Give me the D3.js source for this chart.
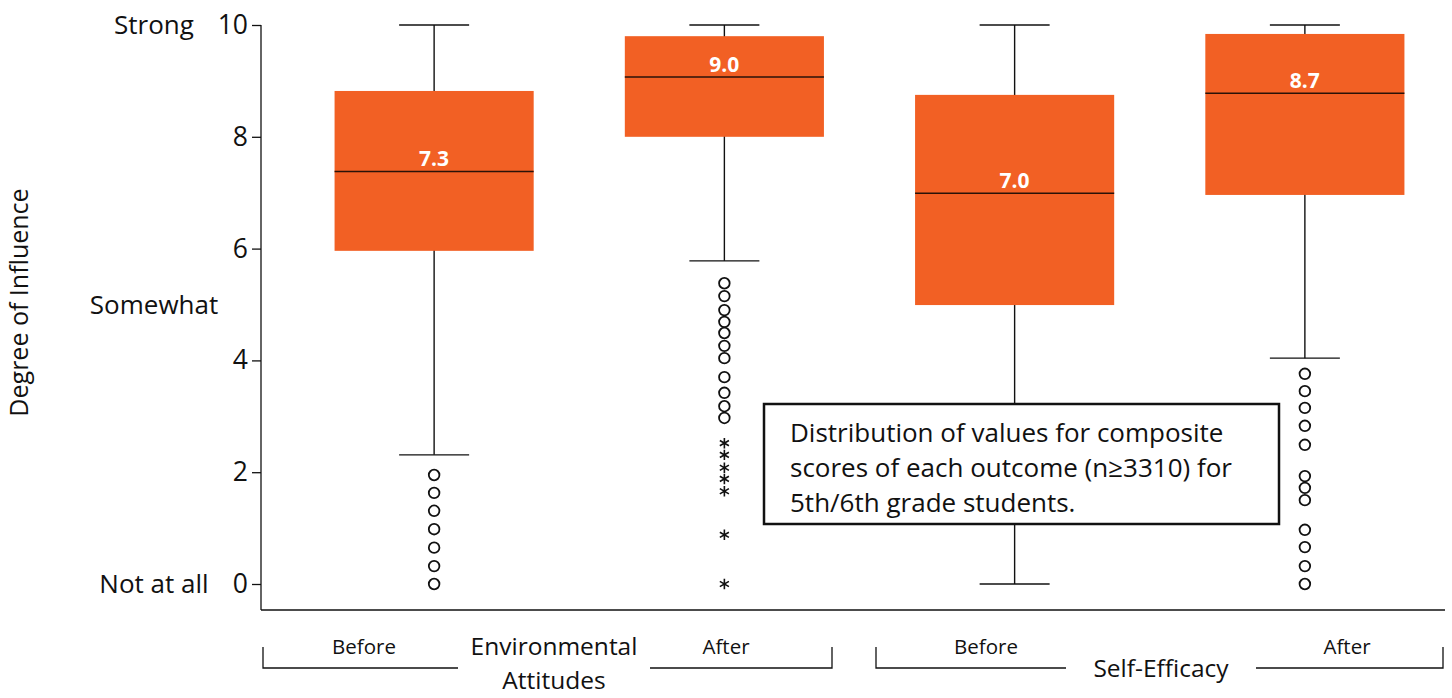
<!DOCTYPE html>
<html>
<head>
<meta charset="utf-8">
<script src="https://cdn.jsdelivr.net/npm/d3@7"></script>
<style>
  html, body { margin: 0; padding: 0; background: #fff; }
  svg { display: block; }
  text { font-family: "Open Sans", "Noto Sans", sans-serif; fill: #111; }
</style>
</head>
<body>
<svg id="chart" width="1452" height="698"></svg>
<script>
// ---------- data ----------
const categories   = ["EA Before", "EA After", "SE Before", "SE After"];
const q1           = [5.96, 8.00, 4.99, 6.96];
const medians      = [7.38, 9.07, 6.99, 8.78];
const q3           = [8.82, 9.80, 8.75, 9.84];
const whiskerLow   = [2.31, 5.78, 0.00, 4.04];
const whiskerHigh  = [10, 10, 10, 10];
const medianLabels = ["7.3", "9.0", "7.0", "8.7"];
const circleOutliers = [
  [1.95, 1.63, 1.31, 0.98, 0.65, 0.32, 0.00],
  [5.38, 5.15, 4.90, 4.69, 4.49, 4.26, 4.04, 3.70, 3.42, 3.18, 2.97],
  [],
  [3.76, 3.45, 3.15, 2.83, 2.49, 1.93, 1.72, 1.50, 0.97, 0.66, 0.32, 0.00]
];
const starOutliers = [
  [],
  [2.52, 2.31, 2.08, 1.88, 1.66, 0.88, 0.00],
  [],
  []
];
const yTicks = [0, 2, 4, 6, 8, 10];
const sideLabelValues = [10, 5, 0];
const sideLabelTexts  = ["Strong", "Somewhat", "Not at all"];
const groupNames   = [["Environmental", "Attitudes"], ["Self-Efficacy"]];
const phaseLabels  = ["Before", "After"];
const yTitle = "Degree of Influence";
const noteLines = [
  "Distribution of values for composite",
  "scores of each outcome (n\u22653310) for",
  "5th/6th grade students."
];

// ---------- layout ----------
const svg = d3.select("#chart");
const orange = "#F26024";
const y = d3.scaleLinear().domain([0, 10]).range([584, 25]);
const x = d3.scaleBand().domain(categories).range([289, 1450]).padding(0);
const boxW = x.bandwidth() * 0.686;
const capHalf = 35;
const axisX = 261, axisBottom = 610, axisRight = 1445;

// y axis
const yAxis = d3.axisLeft(y).tickValues(yTicks).tickSize(9).tickSizeOuter(0).tickPadding(4);
const gAxis = svg.append("g").attr("transform", `translate(${axisX},0)`).call(yAxis);
gAxis.select(".domain").remove();
gAxis.selectAll(".tick line").attr("stroke", "#111").attr("stroke-width", 1.3);
gAxis.selectAll(".tick text").attr("font-size", 26.5).attr("fill", "#111")
  .style("font-family", '"Open Sans", sans-serif');
svg.append("line").attr("x1", axisX).attr("x2", axisX).attr("y1", y(10)).attr("y2", axisBottom)
  .attr("stroke", "#111").attr("stroke-width", 1.3);
svg.append("line").attr("x1", axisX).attr("x2", axisRight).attr("y1", axisBottom).attr("y2", axisBottom)
  .attr("stroke", "#111").attr("stroke-width", 1.3);

// side labels
svg.append("g").selectAll("text").data(sideLabelValues).join("text")
  .attr("x", 154).attr("y", d => y(d)).attr("dy", "0.35em")
  .attr("text-anchor", "middle").attr("font-size", 26)
  .text((d, i) => sideLabelTexts[i]);

// y title
svg.append("text")
  .attr("transform", `translate(28,${y(5) - 2}) rotate(-90)`)
  .attr("text-anchor", "middle").attr("font-size", 25)
  .text(yTitle);

// boxes
const boxes = categories.map((c, i) => ({c, i}));
const gB = svg.append("g");
const cx = c => x(c) + x.bandwidth() / 2;

// whiskers
gB.selectAll("line.wh").data(boxes).join("line").attr("class", "wh")
  .attr("x1", d => cx(d.c)).attr("x2", d => cx(d.c))
  .attr("y1", d => y(whiskerHigh[d.i])).attr("y2", d => y(whiskerLow[d.i]))
  .attr("stroke", "#111").attr("stroke-width", 1.4);
gB.selectAll("line.capH").data(boxes).join("line").attr("class", "capH")
  .attr("x1", d => cx(d.c) - capHalf).attr("x2", d => cx(d.c) + capHalf)
  .attr("y1", d => y(whiskerHigh[d.i])).attr("y2", d => y(whiskerHigh[d.i]))
  .attr("stroke", "#111").attr("stroke-width", 1.4);
gB.selectAll("line.capL").data(boxes).join("line").attr("class", "capL")
  .attr("x1", d => cx(d.c) - capHalf).attr("x2", d => cx(d.c) + capHalf)
  .attr("y1", d => y(whiskerLow[d.i])).attr("y2", d => y(whiskerLow[d.i]))
  .attr("stroke", "#111").attr("stroke-width", 1.4);

gB.selectAll("rect").data(boxes).join("rect")
  .attr("x", d => cx(d.c) - boxW / 2).attr("width", boxW)
  .attr("y", d => y(q3[d.i])).attr("height", d => y(q1[d.i]) - y(q3[d.i]))
  .attr("fill", orange);
gB.selectAll("line.med").data(boxes).join("line").attr("class", "med")
  .attr("x1", d => cx(d.c) - boxW / 2).attr("x2", d => cx(d.c) + boxW / 2)
  .attr("y1", d => y(medians[d.i])).attr("y2", d => y(medians[d.i]))
  .attr("stroke", "#2a1208").attr("stroke-width", 1.5);
gB.selectAll("text.ml").data(boxes).join("text").attr("class", "ml")
  .attr("x", d => cx(d.c)).attr("y", d => y(medians[d.i]) - 5)
  .attr("text-anchor", "middle").attr("font-size", 21).attr("font-weight", 700)
  .style("fill", "#fff")
  .text(d => medianLabels[d.i]);

// outliers
const circ = boxes.flatMap(d => circleOutliers[d.i].map(v => ({c: d.c, v})));
svg.append("g").selectAll("circle").data(circ).join("circle")
  .attr("cx", d => cx(d.c)).attr("cy", d => y(d.v)).attr("r", 5.3)
  .attr("fill", "none").attr("stroke", "#111").attr("stroke-width", 1.8);

const asterisk = {
  draw(ctx, size) {
    const r = Math.sqrt(size) / 2;
    for (const a of [90, 30, 150]) {
      const t = a * Math.PI / 180;
      ctx.moveTo(-r * Math.cos(t), -r * Math.sin(t));
      ctx.lineTo(r * Math.cos(t), r * Math.sin(t));
    }
  }
};
const stars = boxes.flatMap(d => starOutliers[d.i].map(v => ({c: d.c, v})));
svg.append("g").selectAll("path").data(stars).join("path")
  .attr("transform", d => `translate(${cx(d.c)},${y(d.v)})`)
  .attr("d", d3.symbol().type(asterisk).size(110))
  .attr("fill", "none").attr("stroke", "#111").attr("stroke-width", 1.6);

// note box
const note = svg.append("g");
note.append("rect").attr("x", 764).attr("y", 404).attr("width", 515).attr("height", 120)
  .attr("fill", "#fff").attr("stroke", "#111").attr("stroke-width", 2.5);
note.selectAll("text").data(noteLines).join("text")
  .attr("x", 790).attr("y", (d, i) => 442 + i * 35)
  .attr("font-size", 26).text(d => d);

// bottom group brackets
const groups = [
  {x0: 263, x1: 832, gap0: 458, gap1: 650, ph: [364, 726], name: groupNames[0], ny: 655},
  {x0: 876, x1: 1443, gap0: 1066, gap1: 1256, ph: [986, 1347], name: groupNames[1], ny: 677}
];
const gG = svg.append("g");
groups.forEach(g => {
  const p = d3.path();
  p.moveTo(g.x0, 647); p.lineTo(g.x0, 668); p.lineTo(g.gap0, 668);
  p.moveTo(g.gap1, 668); p.lineTo(g.x1, 668); p.lineTo(g.x1, 647);
  gG.append("path").attr("d", p.toString()).attr("fill", "none")
    .attr("stroke", "#111").attr("stroke-width", 1.3);
  phaseLabels.forEach((t, i) => {
    gG.append("text").attr("x", g.ph[i]).attr("y", 654).attr("text-anchor", "middle")
      .attr("font-size", 20.5).text(t);
  });
  g.name.forEach((line, i) => {
    gG.append("text").attr("x", (g.gap0 + g.gap1) / 2).attr("y", g.ny + i * 34)
      .attr("text-anchor", "middle").attr("font-size", 24.5).text(line);
  });
});
</script>
</body>
</html>
